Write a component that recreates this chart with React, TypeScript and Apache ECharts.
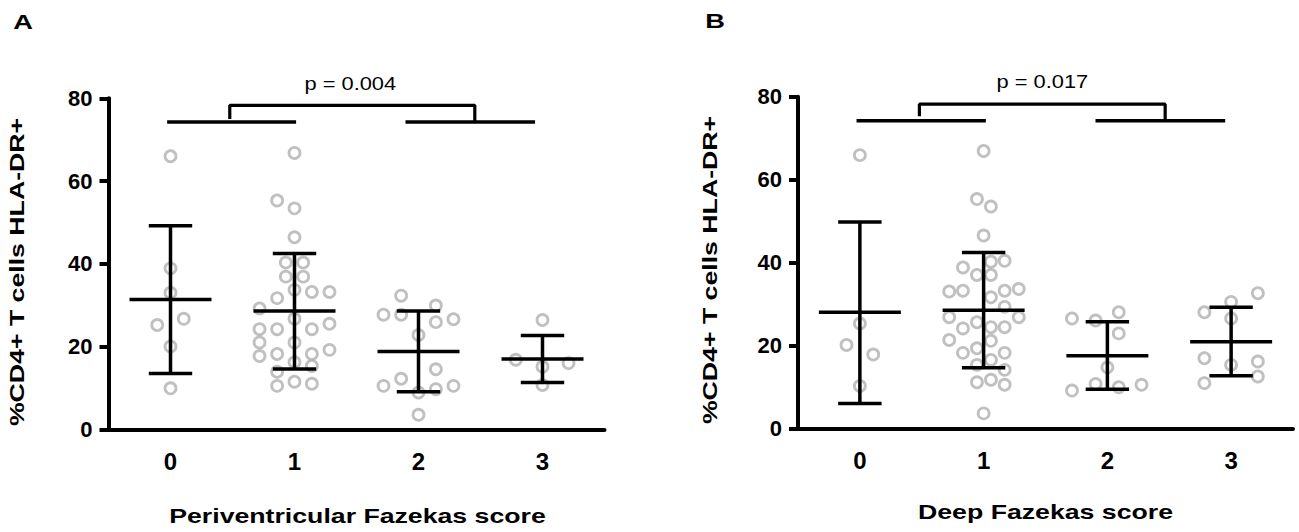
import React, { useEffect, useRef } from 'react';
import * as echarts from 'echarts';

const categories = ['0', '1', '2', '3'];

// Panel A – Periventricular Fazekas score; each point [jitter, value]
const a0 = [[0, 66.0], [0, 38.9], [0, 33.0], [-0.107, 25.2], [0.107, 26.7], [0, 20.0], [0, 9.9]];
const a1 = [
  [0, 66.8], [-0.14, 55.3], [0, 53.4], [0, 46.4], [-0.07, 40.3], [0.07, 40.3], [-0.07, 36.9], [0.07, 36.9],
  [-0.14, 31.7], [0, 33.7], [0.14, 33.2], [0.282, 33.2], [-0.282, 29.2], [0, 26.7], [0.282, 25.5],
  [-0.282, 24.2], [-0.14, 24.2], [0.14, 24.2], [-0.282, 21.0], [0, 21.0], [0.282, 19.2], [-0.282, 17.7],
  [-0.14, 18.2], [0.14, 18.2], [0, 16.2], [0.14, 15.3], [-0.14, 13.9], [-0.14, 10.5], [0, 11.5], [0.14, 11.0],
];
const a2 = [
  [-0.14, 32.3], [0.14, 29.9], [-0.282, 27.7], [-0.14, 27.7], [0.14, 25.9], [0.282, 26.6], [0, 22.8],
  [0.14, 14.5], [-0.14, 12.2], [-0.282, 10.5], [0, 8.9], [0.14, 9.7], [0.282, 10.5], [0, 3.5],
];
const a3 = [[0, 26.4], [-0.215, 16.8], [0, 15.1], [0.21, 16.0], [0, 10.7]];
const aMean = [31.4, 28.6, 18.8, 17.0];
const aLower = [13.5, 14.6, 9.1, 11.3];
const aUpper = [49.2, 42.5, 28.6, 22.7];
const aLineLeft = [[-0.027, 74.3], [1.013, 74.3]];
const aLineRight = [[1.895, 74.3], [2.94, 74.3]];
const aBracket = [[0.478, 75.0], [0.478, 78.3], [2.454, 78.3], [2.454, 74.3]];
const aP = { x: 1.45, y: 83.6, text: 'p = 0.004' };

// Panel B – Deep Fazekas score
const b0 = [[0, 65.9], [0, 25.3], [-0.108, 20.1], [0.108, 17.8], [0, 10.2]];
const b1 = [
  [0, 66.9], [-0.054, 55.3], [0.059, 53.5], [0, 46.5], [-0.167, 38.8], [0.059, 40.2], [0.17, 40.4],
  [-0.054, 37.0], [0.059, 37.0], [-0.278, 33.0], [-0.167, 33.2], [0.17, 33.2], [0.284, 33.6], [0.059, 31.6],
  [0.17, 29.3], [-0.278, 26.8], [-0.054, 25.6], [0.284, 26.8], [-0.167, 24.1], [0.059, 24.4], [0.17, 24.4],
  [-0.278, 21.3], [0.059, 21.1], [-0.054, 19.3], [-0.167, 18.2], [0.17, 18.2], [0.059, 16.5], [-0.054, 15.3],
  [0.17, 14.1], [-0.054, 11.1], [0.059, 11.7], [0.17, 10.5], [0, 3.6],
];
const b2 = [
  [-0.286, 26.5], [-0.095, 26.0], [0.092, 28.0], [0.092, 22.9], [0, 14.7], [-0.286, 9.1], [-0.095, 10.7],
  [0.092, 9.9], [0.276, 10.5],
];
const b3 = [
  [0.216, 32.6], [0, 30.5], [-0.216, 28.0], [0, 26.5], [-0.216, 16.9], [0, 15.3], [0.216, 16.1],
  [0.216, 12.5], [-0.216, 10.9],
];
const bMean = [28.0, 28.5, 17.5, 20.9];
const bLower = [6.0, 14.6, 9.4, 12.7];
const bUpper = [49.8, 42.4, 25.7, 29.2];
const bLineLeft = [[-0.027, 74.2], [1.018, 74.2]];
const bLineRight = [[1.904, 74.2], [2.952, 74.2]];
const bBracket = [[0.481, 75.3], [0.481, 78.2], [2.467, 78.2], [2.467, 74.2]];
const bP = { x: 1.475, y: 83.8, text: 'p = 0.017' };

const FONT = '"Liberation Sans", Arial, Helvetica, sans-serif';
const MEAN_HALF = 41;
const CAP_HALF = 21.7;

function panelSeries(gi: number, groups: number[][][], mean: number[], lower: number[], upper: number[],
  lineL: number[][], lineR: number[][], bracket: number[][], p: { x: number; y: number; text: string }) {
  const xi = gi * 2 + 1;
  const lineBase = {
    type: 'line', xAxisIndex: xi, yAxisIndex: gi, symbol: 'none', showSymbol: false, silent: true, z: 3,
    lineStyle: { color: '#000', width: 3.5 },
  };
  return [
    {
      type: 'scatter', xAxisIndex: xi, yAxisIndex: gi, z: 2, symbol: 'circle', symbolSize: 11, silent: true,
      itemStyle: { color: 'rgba(255,255,255,0)', borderColor: '#b0b0b0', borderWidth: 2.8 },
      data: groups.flatMap((g, i) => g.map(([j, v]) => [i + j, v])),
    },
    {
      type: 'custom', xAxisIndex: xi, yAxisIndex: gi, z: 3, silent: true,
      data: mean.map((m, i) => [i, m, lower[i], upper[i]]),
      encode: { x: 0, y: [1, 2, 3] },
      renderItem: (_params: any, api: any) => {
        const x = api.value(0);
        const pm = api.coord([x, api.value(1)]);
        const pl = api.coord([x, api.value(2)]);
        const ph = api.coord([x, api.value(3)]);
        const st = { stroke: '#000', lineWidth: 3.5 };
        return {
          type: 'group',
          children: [
            { type: 'line', shape: { x1: pm[0] - MEAN_HALF, y1: pm[1], x2: pm[0] + MEAN_HALF, y2: pm[1] }, style: st },
            { type: 'line', shape: { x1: pl[0], y1: pl[1], x2: ph[0], y2: ph[1] }, style: st },
            { type: 'line', shape: { x1: ph[0] - CAP_HALF, y1: ph[1], x2: ph[0] + CAP_HALF, y2: ph[1] }, style: st },
            { type: 'line', shape: { x1: pl[0] - CAP_HALF, y1: pl[1], x2: pl[0] + CAP_HALF, y2: pl[1] }, style: st },
          ],
        };
      },
    },
    { ...lineBase, data: lineL },
    { ...lineBase, data: lineR },
    { ...lineBase, lineStyle: { color: '#000', width: 3.2 }, data: bracket },
    {
      type: 'custom', xAxisIndex: xi, yAxisIndex: gi, z: 4, silent: true, clip: false,
      data: [[p.x, p.y]],
      renderItem: (_params: any, api: any) => {
        const c = api.coord([api.value(0), api.value(1)]);
        return {
          type: 'text', x: c[0], y: c[1], scaleX: 1.15,
          style: { text: p.text, fontSize: 19, fontFamily: FONT, fill: '#000', align: 'center', verticalAlign: 'middle' },
        };
      },
    },
  ];
}

function catAxis(gi: number) {
  return {
    type: 'category', gridIndex: gi, data: categories, boundaryGap: true,
    axisLine: { show: true, onZero: false, lineStyle: { color: '#000', width: 4 } },
    axisTick: { show: false },
    splitLine: { show: false },
    axisLabel: { fontSize: 24, fontWeight: 'bold', color: '#000', margin: 20, fontFamily: FONT },
  };
}
function valXAxis(gi: number) {
  return { type: 'value', gridIndex: gi, min: -0.5, max: 3.5, show: false, splitLine: { show: false } };
}
function yAx(gi: number) {
  return {
    type: 'value', gridIndex: gi, min: 0, max: 80, interval: 20,
    axisLine: { show: true, onZero: false, lineStyle: { color: '#000', width: 4 } },
    axisTick: { show: true, length: 9, lineStyle: { color: '#000', width: 4 } },
    splitLine: { show: false },
    axisLabel: { fontSize: 22, fontWeight: 'bold', color: '#000', margin: 16, fontFamily: FONT },
  };
}

function titleText(x: number, y: number, text: string, opts: any = {}) {
  return {
    type: 'text', x, y, silent: true, ...opts,
    style: { text, fontSize: 21, fontWeight: 'bold', fontFamily: FONT, fill: '#000', align: 'center', verticalAlign: 'middle' },
  };
}

export default function App() {
  const ref = useRef<HTMLDivElement>(null);
  useEffect(() => {
    document.body.style.margin = '0';
    const chart = echarts.init(ref.current!, null, { renderer: 'svg' });
    chart.setOption({
      animation: false,
      backgroundColor: '#fff',
      grid: [
        { left: 108.5, top: 98.3, width: 496, height: 331 },
        { left: 798, top: 96.7, width: 495, height: 331.6 },
      ],
      xAxis: [catAxis(0), valXAxis(0), catAxis(1), valXAxis(1)],
      yAxis: [yAx(0), yAx(1)],
      series: [
        ...panelSeries(0, [a0, a1, a2, a3], aMean, aLower, aUpper, aLineLeft, aLineRight, aBracket, aP),
        ...panelSeries(1, [b0, b1, b2, b3], bMean, bLower, bUpper, bLineLeft, bLineRight, bBracket, bP),
      ],
      graphic: [
        titleText(23, 22, 'A', { scaleX: 1.3 }),
        titleText(715, 21, 'B', { scaleX: 1.3 }),
        titleText(357.5, 515.5, 'Periventricular Fazekas score', { scaleX: 1.27 }),
        titleText(1045.5, 511.5, 'Deep Fazekas score', { scaleX: 1.27 }),
        titleText(17, 272, '%CD4+ T cells HLA-DR+', { rotation: Math.PI / 2, scaleX: 1.27 }),
        titleText(710, 270, '%CD4+ T cells HLA-DR+', { rotation: Math.PI / 2, scaleX: 1.27 }),
      ],
    });
    return () => chart.dispose();
  }, []);
  return <div ref={ref} style={{ width: 1299, height: 532 }} />;
}
